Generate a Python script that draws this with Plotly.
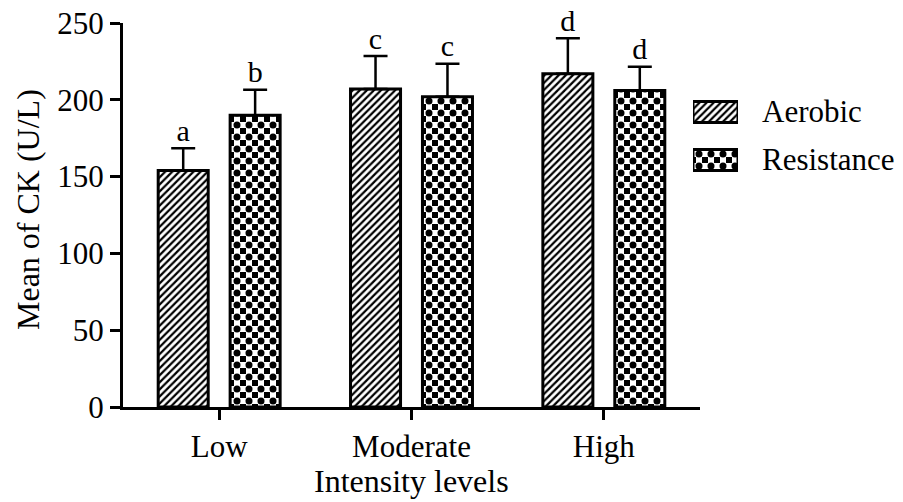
import numpy as np
import plotly.graph_objects as go

# ---- data ----
categories = ["Low", "Moderate", "High"]
series_names = ["Aerobic", "Resistance"]
aerobic_mean = [154, 207, 217]
aerobic_err = [14.5, 21.5, 23]
resistance_mean = [190, 202, 206]
resistance_err = [16.5, 21.5, 15.5]
aerobic_letters = ["a", "c", "d"]
resistance_letters = ["b", "c", "d"]
y_ticks = [0, 50, 100, 150, 200, 250]
x_title = "Intensity levels"
y_title = "Mean of CK (U/L)"

# ---- layout constants ----
W, H = 903, 502
FONT = "Liberation Serif, Times New Roman, Times, serif"
pos = np.arange(len(categories))
OFF = 0.187
BW = 0.26

hatch = dict(shape="/", fgcolor="black", bgcolor="white", size=5,
             solidity=0.45, fillmode="replace")
checker_base = dict(shape="+", bgcolor="black", fgcolor="white", size=12,
                    solidity=0.75, fillmode="replace")
checker_dots = dict(shape=".", fgcolor="black", bgcolor="rgba(0,0,0,0)",
                    size=12, solidity=0.27, fillmode="overlay", fgopacity=1)
outline = dict(color="black", width=3)


def err(arr):
    return dict(type="data", array=arr, arrayminus=[0] * len(arr),
                symmetric=False, color="black", thickness=2.5, width=12)


fig = go.Figure()

# main bars
fig.add_trace(go.Bar(x=pos - OFF, y=aerobic_mean, width=BW, name=series_names[0],
                     marker=dict(color="white", pattern=hatch, line=outline),
                     error_y=err(aerobic_err), showlegend=False))
fig.add_trace(go.Bar(x=pos + OFF, y=resistance_mean, width=BW, name=series_names[1],
                     marker=dict(color="black", pattern=checker_base,
                                 line=dict(width=0)),
                     showlegend=False))
fig.add_trace(go.Bar(x=pos + OFF, y=resistance_mean, width=BW, name=series_names[1],
                     marker=dict(color="rgba(0,0,0,0)", pattern=checker_dots,
                                 line=outline),
                     error_y=err(resistance_err), showlegend=False))

# significance letters
fig.add_trace(go.Scatter(
    x=np.concatenate([pos - OFF, pos + OFF]),
    y=np.concatenate([np.add(aerobic_mean, aerobic_err),
                      np.add(resistance_mean, resistance_err)]),
    text=aerobic_letters + resistance_letters,
    mode="text", textposition="top center",
    textfont=dict(family=FONT, size=30, color="black"),
    cliponaxis=False, showlegend=False, hoverinfo="skip"))

# custom legend swatches (separate hidden axes)
fig.add_trace(go.Bar(x=[1], y=[0], orientation="h", width=0.44,
                     xaxis="x2", yaxis="y2",
                     marker=dict(color="white", pattern=hatch, line=outline),
                     showlegend=False, hoverinfo="skip"))
fig.add_trace(go.Bar(x=[1], y=[1], orientation="h", width=0.44,
                     xaxis="x2", yaxis="y2",
                     marker=dict(color="black", pattern=checker_base,
                                 line=dict(width=0)),
                     showlegend=False, hoverinfo="skip"))
fig.add_trace(go.Bar(x=[1], y=[1], orientation="h", width=0.44,
                     xaxis="x2", yaxis="y2",
                     marker=dict(color="rgba(0,0,0,0)", pattern=checker_dots,
                                 line=outline),
                     showlegend=False, hoverinfo="skip"))

annotations = []
for i, name in enumerate(series_names):
    annotations.append(dict(x=1, y=i, xref="x2", yref="y2", text=name,
                            xanchor="left", yanchor="middle", xshift=22,
                            showarrow=False,
                            font=dict(family=FONT, size=31, color="black")))
annotations.append(dict(x=(123 + 700) / 2 / W, y=(H - 481) / H, xref="paper",
                        yref="paper", text=x_title, showarrow=False,
                        xanchor="center", yanchor="middle",
                        font=dict(family=FONT, size=32, color="black")))
annotations.append(dict(x=28 / W, y=(H - 210) / H, xref="paper", yref="paper",
                        text=y_title, textangle=-90, showarrow=False,
                        xanchor="center", yanchor="middle",
                        font=dict(family=FONT, size=32, color="black")))

axis_style = dict(showline=True, linecolor="black", linewidth=3,
                  ticks="outside", ticklen=10, tickwidth=3, tickcolor="black",
                  showgrid=False, zeroline=False, automargin=False,
                  tickfont=dict(family=FONT, size=31, color="black"))

fig.update_layout(
    width=W, height=H, autosize=False,
    margin=dict(l=0, r=0, t=0, b=0, pad=0, autoexpand=False),
    paper_bgcolor="white", plot_bgcolor="white",
    barmode="overlay",
    xaxis=dict(domain=[123 / W, 700 / W], range=[-0.5, 2.5],
               tickvals=pos, ticktext=categories, anchor="y", **axis_style),
    yaxis=dict(domain=[(H - 407) / H, (H - 23) / H], range=[0, 250],
               tickvals=y_ticks, anchor="x", **axis_style),
    xaxis2=dict(domain=[693 / W, 738 / W], range=[0, 1], visible=False,
                anchor="y2", fixedrange=True, automargin=False),
    yaxis2=dict(domain=[(H - 184) / H, (H - 88) / H], range=[1.5, -0.5],
                visible=False, anchor="x2", fixedrange=True, automargin=False),
    annotations=annotations,
    showlegend=False,
)

fig.write_html("out.html")
